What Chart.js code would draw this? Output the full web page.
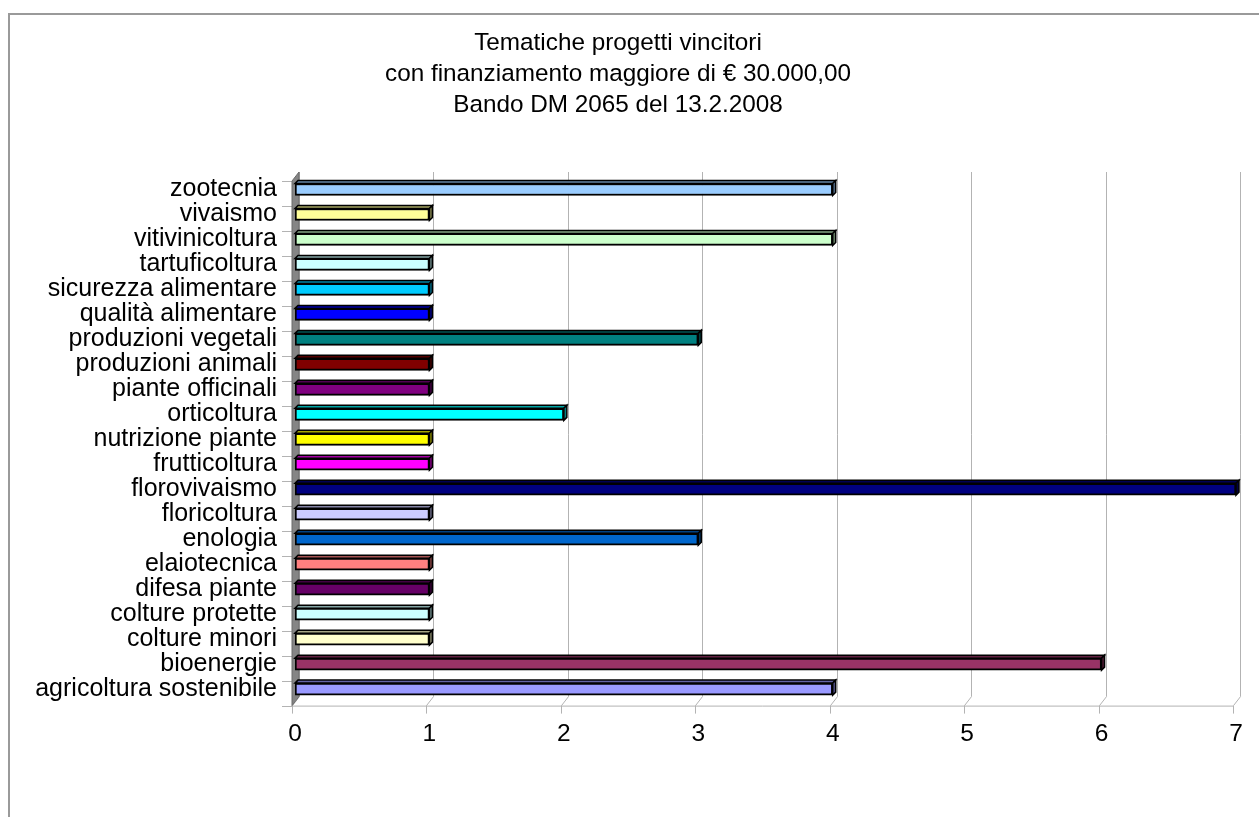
<!DOCTYPE html>
<html>
<head>
<meta charset="utf-8">
<script src="https://cdn.jsdelivr.net/npm/chart.js@4.4.1/dist/chart.umd.min.js"></script>
<style>
html, body { margin: 0; padding: 0; background: #fff; overflow: hidden; }
#cornice { position: absolute; left: 8px; top: 13px; width: 1300px; height: 900px; border: 2px solid #9a9a9a; box-sizing: border-box; }
#box { position: absolute; left: 0; top: 0; width: 1259px; height: 817px; }
</style>
</head>
<body>
<div id="cornice"></div>
<div id="box"><canvas id="grafico"></canvas></div>
<script>
// ===== DATI =====
const tematiche = [
    "zootecnia", "vivaismo", "vitivinicoltura", "tartuficoltura",
    "sicurezza alimentare", "qualità alimentare", "produzioni vegetali",
    "produzioni animali", "piante officinali", "orticoltura",
    "nutrizione piante", "frutticoltura", "florovivaismo", "floricoltura",
    "enologia", "elaiotecnica", "difesa piante", "colture protette",
    "colture minori", "bioenergie", "agricoltura sostenibile"
];
const progetti = [4, 1, 4, 1, 1, 1, 3, 1, 1, 2, 1, 1, 7, 1, 3, 1, 1, 1, 1, 6, 4];
const colori = [
    "#99ccff", "#ffff99", "#ccffcc", "#ccffff", "#00ccff", "#0000ff", "#008080",
    "#800000", "#800080", "#00ffff", "#ffff00", "#ff00ff", "#000080", "#ccccff",
    "#0066cc", "#ff8080", "#660066", "#ccffff", "#ffffcc", "#993366", "#9999ff"
];
const tickValori = [0, 1, 2, 3, 4, 5, 6, 7];
const titolo = [
    "Tematiche progetti vincitori",
    "con finanziamento maggiore di € 30.000,00",
    "Bando DM 2065 del 13.2.2008"
];

const FONT = "'Liberation Sans', Arial, sans-serif";

function scurisci(hex, f) {
    const n = parseInt(hex.slice(1), 16);
    const r = Math.round(((n >> 16) & 255) * f);
    const g = Math.round(((n >> 8) & 255) * f);
    const b = Math.round((n & 255) * f);
    return "rgb(" + r + "," + g + "," + b + ")";
}

/* ===== effetto 3D: parete, griglia, facce delle barre ===== */
const treD = {
    id: "treD",
    beforeDatasetsDraw(chart) {
        const { ctx, chartArea: a, scales: { x } } = chart;
        ctx.save();
        ctx.lineWidth = 1;
        ctx.strokeStyle = "#b3b3b3";
        tickValori.forEach(v => {
            const px = Math.round(x.getPixelForValue(v)) + 0.5;
            ctx.beginPath();
            ctx.moveTo(px + 4, a.top - 5);
            ctx.lineTo(px + 4, a.bottom - 5);
            ctx.lineTo(px - 3, a.bottom + 4);
            ctx.lineTo(px - 3, a.bottom + 12);
            ctx.stroke();
        });
        ctx.beginPath();
        ctx.moveTo(a.left - 3, a.bottom + 4.5);
        ctx.lineTo(x.getPixelForValue(7) - 3, a.bottom + 4.5);
        ctx.stroke();

        // tacche categorie
        const passo = (a.bottom - a.top) / tematiche.length;
        ctx.beginPath();
        for (let i = 0; i <= tematiche.length; i++) {
            const py = Math.round(a.top + 4 + i * passo) + 0.5;
            ctx.moveTo(a.left - 13, py);
            ctx.lineTo(a.left - 3, py);
        }
        ctx.stroke();

        // parete
        ctx.fillStyle = "#858585";
        ctx.strokeStyle = "#6b6b6b";
        ctx.beginPath();
        ctx.moveTo(a.left - 3, a.top + 4);
        ctx.lineTo(a.left + 4, a.top - 5);
        ctx.lineTo(a.left + 4, a.bottom - 5);
        ctx.lineTo(a.left - 3, a.bottom + 4);
        ctx.closePath();
        ctx.fill();
        ctx.stroke();
        ctx.restore();
    },
    afterDatasetsDraw(chart) {
        const ctx = chart.ctx;
        const meta = chart.getDatasetMeta(0);
        const d = 3;
        ctx.save();
        ctx.lineWidth = 1.5;
        ctx.strokeStyle = "#000";
        meta.data.forEach((bar, i) => {
            const p = bar.getProps(["x", "y", "base", "height"], true);
            const top = p.y - p.height / 2, bot = p.y + p.height / 2;
            ctx.fillStyle = scurisci(colori[i], 0.65);
            ctx.beginPath();
            ctx.moveTo(p.base, top);
            ctx.lineTo(p.base + d, top - d);
            ctx.lineTo(p.x + d, top - d);
            ctx.lineTo(p.x, top);
            ctx.closePath();
            ctx.fill();
            ctx.stroke();
            ctx.fillStyle = scurisci(colori[i], 0.5);
            ctx.beginPath();
            ctx.moveTo(p.x, top);
            ctx.lineTo(p.x + d, top - d);
            ctx.lineTo(p.x + d, bot - d);
            ctx.lineTo(p.x, bot);
            ctx.closePath();
            ctx.fill();
            ctx.stroke();
        });
        ctx.restore();
    }
};

/* ===== GRAFICO ===== */
new Chart(document.getElementById("grafico"), {
    type: "bar",
    data: {
        labels: tematiche,
        datasets: [{
            data: progetti,
            backgroundColor: colori,
            borderColor: "#000",
            borderWidth: 2,
            borderSkipped: false,
            barThickness: 12
        }]
    },
    options: {
        indexAxis: "y",
        responsive: true,
        maintainAspectRatio: false,
        animation: false,
        layout: { padding: { left: 0, right: 23, top: 0, bottom: 58 } },
        plugins: {
            legend: { display: false },
            tooltip: { enabled: false },
            title: {
                display: true,
                text: titolo,
                color: "#000",
                font: { family: FONT, size: 24.3, weight: "normal", lineHeight: 31 / 24.3 },
                padding: { top: 28, bottom: 56 }
            }
        },
        scales: {
            x: {
                min: 0,
                max: 7,
                grid: { display: false },
                border: { display: false },
                ticks: {
                    stepSize: 1,
                    color: "#000",
                    padding: 10,
                    font: { family: FONT, size: 24.5 }
                }
            },
            y: {
                grid: { display: false },
                border: { display: false },
                ticks: {
                    color: "#000",
                    padding: 10,
                    autoSkip: false,
                    font: { family: FONT, size: 25 }
                },
                afterFit(scale) { scale.width = 295; }
            }
        }
    },
    plugins: [treD]
});
</script>
</body>
</html>
